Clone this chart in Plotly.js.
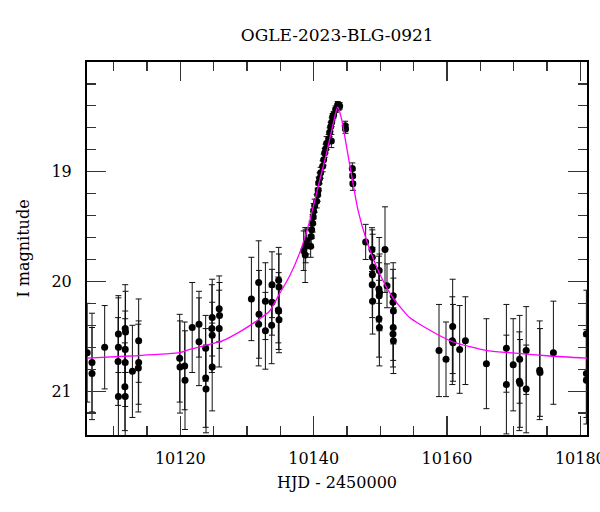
<!DOCTYPE html>
<html>
<head>
<meta charset="utf-8">
<script src="https://cdn.plot.ly/plotly-3.0.1.min.js"></script>
<style>html,body{margin:0;padding:0;background:#fff;}#chart{width:600px;height:512px;}</style>
</head>
<body>
<div id="chart"></div>
<script>
// Observations: HJD - 2450000, I magnitude, error
const hjd = [
  10106.03, 10106.75, 10106.75, 10108.65,
  10110.71, 10110.71, 10110.66, 10110.71,
  10111.73, 10111.78, 10111.73, 10111.73, 10111.68, 10111.73,
  10112.81, 10113.75, 10113.75, 10113.70,
  10119.90, 10119.95, 10120.65, 10120.70,
  10121.78, 10122.80, 10122.80,
  10123.80, 10123.80, 10123.85,
  10124.78, 10124.73, 10124.78, 10124.78,
  10125.83, 10125.88, 10125.83,
  10130.66, 10131.75, 10131.80, 10131.75,
  10132.76, 10132.76, 10133.75, 10133.75, 10133.70,
  10134.75, 10134.80, 10134.70, 10134.75, 10134.80,
  10138.50, 10138.73, 10138.80, 10138.95, 10139.55, 10139.63, 10139.70, 10139.85,
  10139.93, 10140.00, 10140.15, 10140.45, 10140.60, 10140.68, 10140.75, 10140.90,
  10141.05, 10141.35, 10141.50, 10141.65, 10141.80, 10141.95, 10142.25, 10142.40,
  10142.55, 10142.65, 10142.70, 10142.85, 10143.00, 10143.30, 10143.60, 10143.75, 10143.90,
  10144.73, 10144.78, 10145.80, 10145.85, 10145.88,
  10147.80,
  10148.75, 10148.80, 10148.85, 10148.81, 10148.78, 10148.84,
  10149.83, 10149.78, 10149.88, 10149.83, 10149.80, 10149.86,
  10150.70, 10151.00,
  10151.93, 10151.90, 10151.96, 10151.93, 10151.90, 10151.96,
  10158.80, 10159.85, 10160.85, 10160.80, 10160.90, 10161.90, 10162.76,
  10165.91, 10168.91, 10168.91, 10169.93, 10170.90, 10170.85, 10170.95,
  10171.88, 10171.88, 10173.90, 10173.95, 10175.96,
  10180.91, 10180.91, 10180.91
];
const mag = [
  20.65, 20.74, 20.84, 20.60,
  20.48, 20.60, 20.73, 21.05,
  20.43, 20.46, 20.62, 20.74, 20.96, 21.05,
  20.82, 20.54, 20.74, 20.79,
  20.70, 20.78, 20.77, 20.90,
  20.42, 20.39, 20.55,
  20.61, 20.88, 20.98,
  20.33, 20.43, 20.49, 20.78,
  20.25, 20.31, 20.43,
  20.16, 20.01, 20.30, 20.39,
  20.18, 20.45, 20.03, 20.19, 20.40,
  19.99, 20.05, 20.26, 20.27, 20.35,
  19.72, 19.76, 19.68, 19.63, 19.68, 19.59, 19.53, 19.47,
  19.41, 19.36, 19.31, 19.27, 19.21, 19.17, 19.10, 19.06,
  19.01, 18.95, 18.89, 18.83, 18.79, 18.74, 18.70, 18.64,
  18.59, 18.72, 18.55, 18.50, 18.48, 18.43, 18.39, 18.41, 18.40,
  18.58, 18.61, 18.97, 19.04, 19.11,
  19.64,
  19.71, 19.78, 19.87, 19.94, 20.03, 20.18,
  19.90, 20.07, 20.10, 20.13, 20.34, 20.42,
  19.71, 20.04,
  20.13, 20.19, 20.27, 20.42, 20.48, 20.54,
  20.63, 20.71, 20.41, 20.54, 20.56, 20.62, 20.54,
  20.75, 20.61, 20.94, 20.76, 20.71, 20.91, 20.93,
  20.63, 20.98, 20.81, 20.83, 20.65,
  20.48, 20.84, 20.90
];
const magErr = [
  0.45, 0.45, 0.42, 0.38,
  0.35, 0.45, 0.40, 0.45,
  0.40, 0.37, 0.35, 0.40, 0.40, 0.45,
  0.42, 0.38, 0.38, 0.40,
  0.40, 0.42, 0.40, 0.45,
  0.41, 0.30, 0.40,
  0.30, 0.45, 0.40,
  0.35, 0.40, 0.30, 0.40,
  0.30, 0.30, 0.35,
  0.38, 0.38, 0.40, 0.38,
  0.35, 0.35, 0.30, 0.30, 0.35,
  0.30, 0.30, 0.30, 0.35, 0.30,
  0.18, 0.25, 0.15, 0.12, 0.10, 0.10, 0.08, 0.08,
  0.07, 0.07, 0.06, 0.06, 0.06, 0.05, 0.05, 0.05,
  0.05, 0.05, 0.05, 0.04, 0.04, 0.06, 0.04, 0.04,
  0.04, 0.06, 0.04, 0.03, 0.03, 0.03, 0.03, 0.03, 0.03,
  0.04, 0.04, 0.05, 0.05, 0.06,
  0.16,
  0.20, 0.25, 0.30, 0.25, 0.30, 0.30,
  0.30, 0.30, 0.35, 0.30, 0.35, 0.35,
  0.39, 0.20,
  0.30, 0.30, 0.30, 0.30, 0.30, 0.30,
  0.42, 0.34, 0.43, 0.40, 0.35, 0.40, 0.40,
  0.41, 0.40, 0.45, 0.42, 0.40, 0.45, 0.40,
  0.40, 0.40, 0.45, 0.40, 0.47,
  0.40, 0.40, 0.40
];
// Model curve
const modelHjd = [10106.0, 10112.4, 10119.9, 10121.4, 10126.35, 10128.9, 10131.45, 10133.4, 10134.9,
  10136.4, 10137.9, 10139.4, 10140.9, 10141.9, 10142.9, 10143.6, 10144.15, 10144.9, 10145.65,
  10146.65, 10147.9, 10149.9, 10151.9, 10154.4, 10155.9, 10160.85, 10165.95, 10169.4, 10175.4, 10181.0];
const modelMag = [20.70, 20.68, 20.65, 20.62, 20.54, 20.46, 20.36, 20.27, 20.11,
  19.95, 19.74, 19.45, 19.08, 18.84, 18.57, 18.41, 18.51, 18.76, 19.02,
  19.35, 19.62, 19.93, 20.15, 20.33, 20.39, 20.55, 20.63, 20.65, 20.68, 20.70];

const xTickVals = [10120, 10140, 10160, 10180];
const yTickVals = [19, 20, 21];

const titleText = 'OGLE-2023-BLG-0921';
const xTitle = 'HJD - 2450000';
const yTitle = 'I magnitude';

const FONT = 'DejaVu Serif, Liberation Serif, serif';

const traces = [
  {
    x: hjd, y: mag, type: 'scatter', mode: 'markers',
    marker: {color: '#000', size: 7},
    error_y: {type: 'data', array: magErr, visible: true, color: '#111', thickness: 1, width: 3},
    hoverinfo: 'skip', showlegend: false
  },
  {
    x: modelHjd, y: modelMag, type: 'scatter', mode: 'lines',
    line: {color: '#ff00ff', width: 1.3, shape: 'spline', smoothing: 0.6},
    hoverinfo: 'skip', showlegend: false
  }
];

const axisCommon = {
  showline: true, linecolor: '#000', linewidth: 2, mirror: 'ticks',
  ticks: 'inside', ticklen: 19, tickwidth: 1.2, tickcolor: '#333',
  showgrid: false, zeroline: false,
  tickfont: {family: FONT, size: 16, color: '#000'}
};

const layout = {
  width: 600, height: 512,
  margin: {l: 87, r: 13, t: 62, b: 77},
  paper_bgcolor: '#fff', plot_bgcolor: '#fff',
  title: {text: titleText, font: {family: FONT, size: 17, color: '#000'},
          x: 0.562, xanchor: 'center', xref: 'container', y: 0.932, yanchor: 'middle'},
  xaxis: Object.assign({}, axisCommon, {
    range: [10106, 10181], tickmode: 'array', tickvals: xTickVals, tickformat: 'd',
    ticklabeloverflow: 'allow',
    minor: {dtick: 5, tick0: 10100, ticklen: 9, tickwidth: 1.2, tickcolor: '#333', ticks: 'inside', showgrid: false},
    ticklabelstandoff: 8,
    title: {text: xTitle, font: {family: FONT, size: 16, color: '#000'}, standoff: 10}
  }),
  yaxis: Object.assign({}, axisCommon, {
    range: [21.4, 18.0], autorange: false, tickmode: 'array', tickvals: yTickVals,
    minor: {dtick: 0.2, tick0: 19, ticklen: 9, tickwidth: 1.2, tickcolor: '#333', ticks: 'inside', showgrid: false},
    ticklabelstandoff: 10,
    title: {text: yTitle, font: {family: FONT, size: 16, color: '#000'}, standoff: 18}
  })
};

Plotly.newPlot('chart', traces, layout, {staticPlot: true, displayModeBar: false});
</script>
</body>
</html>
